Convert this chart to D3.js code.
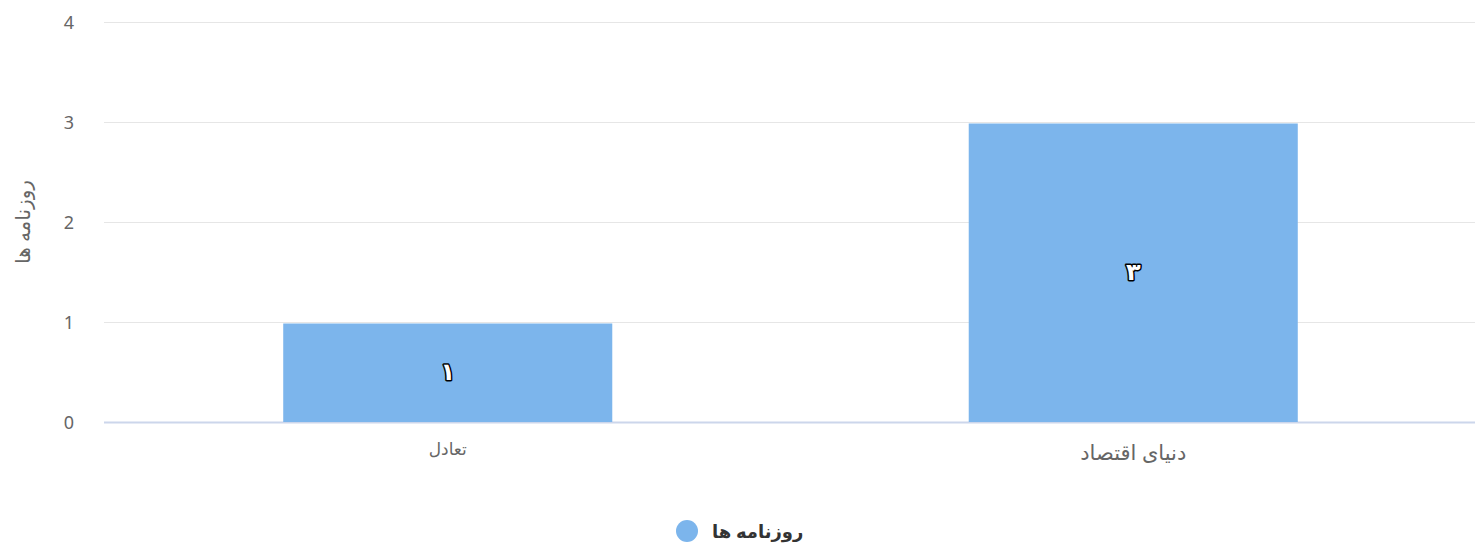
<!DOCTYPE html>
<html>
<head>
<meta charset="utf-8">
<script src="https://cdn.jsdelivr.net/npm/d3@7"></script>
<style>
  body { margin: 0; background: #fff; }
  svg { font-family: "Noto Sans", "DejaVu Sans", sans-serif; }
</style>
</head>
<body>
<div id="chart"></div>
<script>
// chart data
const categories = ["تعادل", "دنیای اقتصاد"];
const values = [1, 3];
const valueLabels = ["۱", "۳"];
const yTicks = [0, 1, 2, 3, 4];
const seriesName = "روزنامه ها";
const yTitle = "روزنامه ها";

const svgWidth = 1475;
const svgHeight = 548;
const margin = { top: 22, right: 0, bottom: 126, left: 104 };
const width = svgWidth - margin.left - margin.right;
const height = svgHeight - margin.top - margin.bottom;

const svg = d3
  .select("#chart")
  .append("svg")
  .attr("width", svgWidth)
  .attr("height", svgHeight);

const chart = svg
  .append("g")
  .attr("transform", `translate(${margin.left},${margin.top})`);

// scales
const x = d3.scaleBand().domain(categories).range([0, width]);
const y = d3.scaleLinear().domain([0, 4]).range([height, 0]);

// grid lines
chart
  .selectAll(".grid")
  .data(yTicks)
  .enter()
  .append("line")
  .attr("x1", 0)
  .attr("x2", width)
  .attr("y1", (d) => y(d) + 0.5)
  .attr("y2", (d) => y(d) + 0.5)
  .attr("stroke", (d) => (d === 0 ? "#ccd6eb" : "#e6e6e6"))
  .attr("stroke-width", (d) => (d === 0 ? 2 : 1));

// y tick labels
chart
  .selectAll(".ytick")
  .data(yTicks)
  .enter()
  .append("text")
  .attr("x", -30)
  .attr("y", (d) => y(d) + 7)
  .attr("text-anchor", "end")
  .attr("fill", "#666")
  .style("font-size", "18px")
  .text((d) => d);

// y axis title
svg
  .append("text")
  .attr("transform", `translate(30, ${margin.top + height / 2}) rotate(-90)`)
  .attr("text-anchor", "middle")
  .attr("fill", "#666")
  .style("font-size", "20px")
  .text(yTitle);

// bars
const barW = x.bandwidth() * 0.48;
chart
  .selectAll(".bar")
  .data(values)
  .enter()
  .append("rect")
  .attr("x", (d, i) => x(categories[i]) + (x.bandwidth() - barW) / 2 + 1)
  .attr("y", (d) => y(d) + 1.5)
  .attr("width", barW)
  .attr("height", (d) => y(0) - y(d) - 1.5)
  .attr("fill", "#7cb5ec");

// data labels
chart
  .selectAll(".label")
  .data(values)
  .enter()
  .append("text")
  .attr("x", (d, i) => x(categories[i]) + x.bandwidth() / 2 + 1)
  .attr("y", (d) => (y(d) + y(0)) / 2 + 8)
  .attr("text-anchor", "middle")
  .attr("fill", "#fff")
  .attr("stroke", "#000")
  .attr("stroke-width", 3)
  .attr("paint-order", "stroke")
  .attr("stroke-linejoin", "round")
  .style("font-size", "24px")
  .style("font-weight", "bold")
  .text((d, i) => valueLabels[i]);

// x labels
chart
  .selectAll(".xlabel")
  .data(categories)
  .enter()
  .append("text")
  .attr("x", (d) => x(d) + x.bandwidth() / 2 + 1)
  .attr("y", (d, i) => height + (i === 0 ? 33 : 38))
  .attr("text-anchor", "middle")
  .attr("fill", "#666")
  .style("font-size", (d, i) => (i === 0 ? "17px" : "21px"))
  .text((d) => d);

// legend
const legend = svg.append("g").attr("transform", "translate(687, 531)");
legend.append("circle").attr("r", 11).attr("fill", "#7cb5ec");
legend
  .append("text")
  .attr("x", 25)
  .attr("y", 7)
  .attr("fill", "#333")
  .style("font-size", "18px")
  .style("font-weight", "bold")
  .text(seriesName);
</script>
</body>
</html>
